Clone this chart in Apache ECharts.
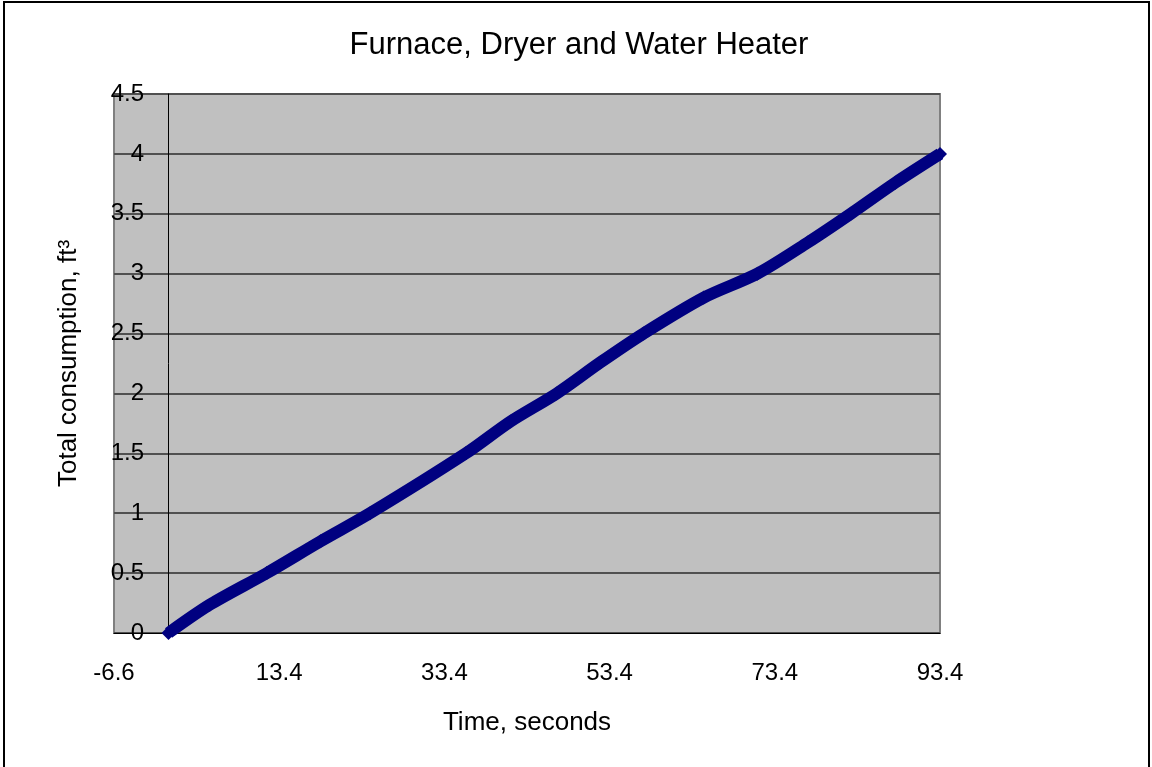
<!DOCTYPE html>
<html>
<head>
<meta charset="utf-8">
<script src="https://cdn.jsdelivr.net/npm/echarts@6/dist/echarts.min.js"></script>
<style>
  html, body { margin: 0; padding: 0; background: #fff; }
  #chart { width: 1152px; height: 767px; }
</style>
</head>
<body>
<div id="chart"></div>
<script>
// 读图得到的数据 (秒, ft3)
const timeSec = [0, 5.0, 11.9, 18.4, 24.4, 36.0, 41.4, 47.0, 52.3, 57.5, 64.8, 71.3, 77.4, 82.6, 88.0, 93.4];
const totalFt3 = [0, 0.236, 0.5, 0.765, 1.0, 1.5, 1.766, 2.0, 2.26, 2.5, 2.8, 3.0, 3.26, 3.5, 3.76, 4.0];
const xTicks = [-6.6, 13.4, 33.4, 53.4, 73.4, 93.4];
const yTicks = [0, 0.5, 1, 1.5, 2, 2.5, 3, 3.5, 4, 4.5];

(function () {
  const myChart = echarts.init(document.getElementById('chart'));
  const font = "'Liberation Sans', Arial, sans-serif";
  const points = timeSec.map((t, i) => [t, totalFt3[i]]);

  let option = {
    animation: false,
    textStyle: { fontFamily: font },
    // 外框
    graphic: [{
      type: 'rect',
      shape: { x: 4, y: 2, width: 1145, height: 800 },
      style: { fill: 'none', stroke: '#000', lineWidth: 2 },
      z: 100
    }],
    title: {
      text: 'Furnace, Dryer and Water Heater',
      left: 579,
      textAlign: 'center',
      top: 30,
      padding: 0,
      textStyle: { fontFamily: font, fontSize: 31, fontWeight: 'normal', color: '#000' }
    },
    grid: {
      left: 114,
      right: 212,
      top: 94,
      bottom: 134,
      containLabel: false,
      outerBoundsMode: 'none',
      show: true,
      backgroundColor: '#c0c0c0',
      borderColor: '#808080',
      borderWidth: 2
    },
    xAxis: {
      type: 'value',
      min: xTicks[0],
      max: xTicks[xTicks.length - 1],
      name: 'Time, seconds',
      nameLocation: 'middle',
      nameGap: 77,
      nameTextStyle: { fontFamily: font, fontSize: 26, color: '#000' },
      axisLine: { show: true, onZero: false, lineStyle: { color: '#000', width: 1 } },
      axisTick: { show: false },
      splitLine: { show: false },
      axisLabel: {
        customValues: xTicks,
        margin: 28,
        fontFamily: font,
        fontSize: 24,
        color: '#000',
        formatter: v => v.toFixed(1)
      }
    },
    yAxis: {
      type: 'value',
      min: 0,
      max: 4.5,
      interval: 0.5,
      name: 'Total consumption, ft³',
      nameLocation: 'middle',
      nameGap: 32,
      nameTextStyle: { fontFamily: font, fontSize: 26, color: '#000' },
      axisLine: { show: true, onZero: true, lineStyle: { color: '#000', width: 1 } },
      axisTick: { show: false },
      splitLine: { show: true, lineStyle: { color: '#505050', width: 2 } },
      axisLabel: {
        customValues: yTicks,
        margin: -30,
        fontFamily: font,
        fontSize: 24,
        color: '#000'
      }
    },
    series: [{
      name: 'Total consumption',
      type: 'line',
      data: points,
      smooth: 0.3,
      lineStyle: { color: '#000080', width: 12 },
      itemStyle: { color: '#000080' },
      symbol: 'diamond',
      symbolSize: 14,
      showAllSymbol: true,
      z: 5
    }]
  };
  myChart.setOption(option);
  window.addEventListener('resize', function () {
    myChart.resize();
  });
})();
</script>
</body>
</html>
